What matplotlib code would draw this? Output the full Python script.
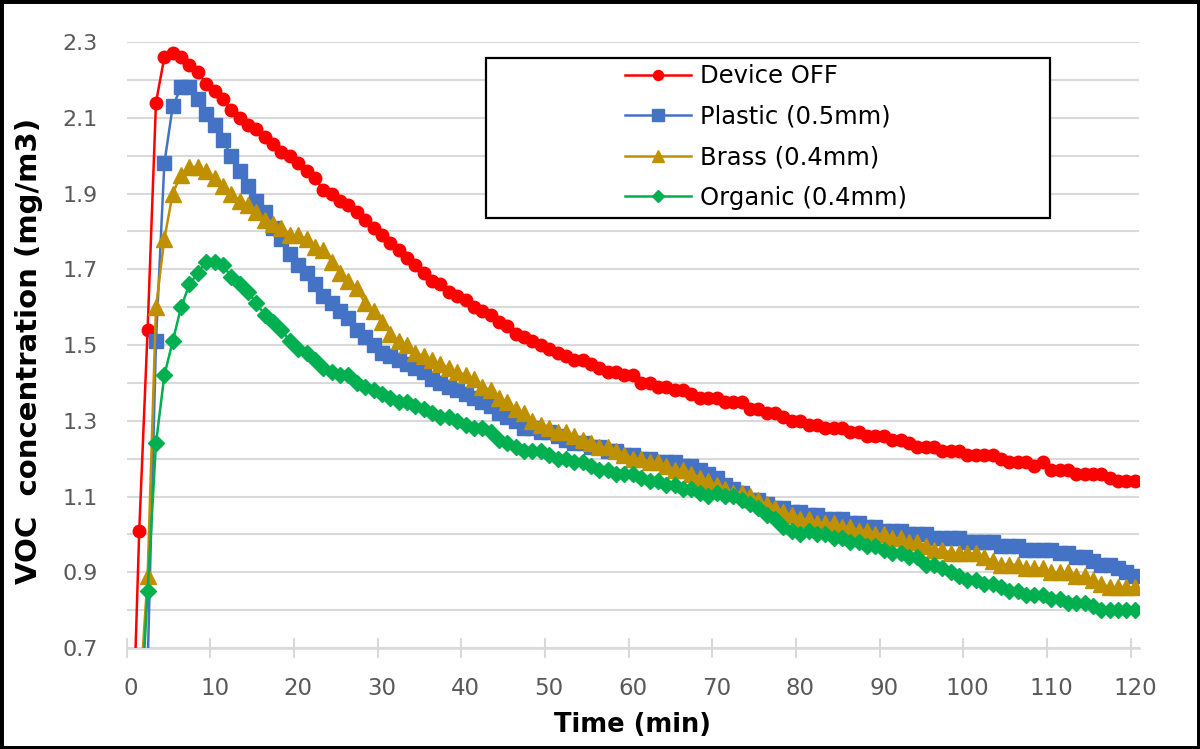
import numpy as np
import matplotlib.pyplot as plt
from matplotlib.patches import Rectangle
from matplotlib.lines import Line2D

# time categories (min)
time_min = list(range(0, 121))

device_off = [0.30, 1.01, 1.54, 2.14, 2.26, 2.27, 2.26, 2.24, 2.22, 2.19,
              2.17, 2.15, 2.12, 2.10, 2.08, 2.07, 2.05, 2.03, 2.01, 2.00,
              1.98, 1.96, 1.94, 1.91, 1.90, 1.88, 1.87, 1.85, 1.83, 1.81,
              1.79, 1.77, 1.75, 1.73, 1.71, 1.69, 1.67, 1.66, 1.64, 1.63,
              1.62, 1.60, 1.59, 1.58, 1.56, 1.55, 1.53, 1.52, 1.51, 1.50,
              1.49, 1.48, 1.47, 1.46, 1.46, 1.45, 1.44, 1.43, 1.43, 1.42,
              1.42, 1.40, 1.40, 1.39, 1.39, 1.38, 1.38, 1.37, 1.36, 1.36,
              1.36, 1.35, 1.35, 1.35, 1.33, 1.33, 1.32, 1.32, 1.31, 1.30,
              1.30, 1.29, 1.29, 1.28, 1.28, 1.28, 1.27, 1.27, 1.26, 1.26,
              1.26, 1.25, 1.25, 1.24, 1.23, 1.23, 1.23, 1.22, 1.22, 1.22,
              1.21, 1.21, 1.21, 1.21, 1.20, 1.19, 1.19, 1.19, 1.18, 1.19,
              1.17, 1.17, 1.17, 1.16, 1.16, 1.16, 1.16, 1.15, 1.14, 1.14,
              1.14]

plastic = [0.55, 0.58, 0.65, 1.51, 1.98, 2.13, 2.18, 2.18, 2.15, 2.11,
           2.08, 2.04, 2.00, 1.96, 1.92, 1.88, 1.85, 1.81, 1.78, 1.74,
           1.71, 1.69, 1.66, 1.63, 1.61, 1.59, 1.57, 1.54, 1.52, 1.50,
           1.48, 1.47, 1.46, 1.45, 1.44, 1.43, 1.41, 1.40, 1.39, 1.38,
           1.37, 1.36, 1.35, 1.34, 1.32, 1.31, 1.30, 1.28, 1.28, 1.27,
           1.27, 1.26, 1.25, 1.24, 1.24, 1.23, 1.23, 1.22, 1.22, 1.21,
           1.21, 1.20, 1.20, 1.19, 1.19, 1.19, 1.18, 1.18, 1.17, 1.16,
           1.15, 1.13, 1.12, 1.11, 1.09, 1.09, 1.08, 1.07, 1.07, 1.06,
           1.06, 1.05, 1.05, 1.04, 1.04, 1.04, 1.03, 1.03, 1.02, 1.02,
           1.01, 1.01, 1.01, 1.00, 1.00, 1.00, 0.99, 0.99, 0.99, 0.99,
           0.98, 0.98, 0.98, 0.98, 0.97, 0.97, 0.97, 0.96, 0.96, 0.96,
           0.96, 0.95, 0.95, 0.94, 0.94, 0.93, 0.92, 0.92, 0.91, 0.90,
           0.89]

brass = [0.50, 0.55, 0.89, 1.60, 1.78, 1.90, 1.95, 1.97, 1.97, 1.96,
         1.94, 1.92, 1.90, 1.88, 1.87, 1.85, 1.83, 1.82, 1.81, 1.79,
         1.79, 1.78, 1.76, 1.75, 1.72, 1.69, 1.67, 1.65, 1.61, 1.59,
         1.56, 1.53, 1.51, 1.50, 1.48, 1.47, 1.46, 1.45, 1.44, 1.43,
         1.42, 1.41, 1.39, 1.38, 1.36, 1.35, 1.33, 1.32, 1.30, 1.29,
         1.28, 1.27, 1.27, 1.26, 1.25, 1.24, 1.23, 1.23, 1.22, 1.21,
         1.20, 1.20, 1.19, 1.19, 1.18, 1.17, 1.17, 1.16, 1.15, 1.14,
         1.13, 1.12, 1.11, 1.11, 1.10, 1.09, 1.08, 1.07, 1.06, 1.05,
         1.04, 1.04, 1.03, 1.03, 1.03, 1.02, 1.02, 1.01, 1.01, 1.00,
         1.00, 0.99, 0.99, 0.98, 0.98, 0.97, 0.96, 0.96, 0.95, 0.95,
         0.95, 0.95, 0.94, 0.93, 0.92, 0.92, 0.92, 0.91, 0.91, 0.91,
         0.90, 0.90, 0.90, 0.89, 0.89, 0.88, 0.87, 0.86, 0.86, 0.86,
         0.86]

organic = [0.40, 0.45, 0.85, 1.24, 1.42, 1.51, 1.60, 1.66, 1.69, 1.72,
           1.72, 1.71, 1.68, 1.66, 1.64, 1.61, 1.58, 1.56, 1.54, 1.51,
           1.49, 1.48, 1.46, 1.44, 1.43, 1.42, 1.42, 1.40, 1.39, 1.38,
           1.37, 1.36, 1.35, 1.35, 1.34, 1.33, 1.32, 1.31, 1.31, 1.30,
           1.29, 1.28, 1.28, 1.27, 1.25, 1.24, 1.23, 1.22, 1.22, 1.22,
           1.21, 1.20, 1.20, 1.19, 1.19, 1.18, 1.17, 1.17, 1.16, 1.16,
           1.16, 1.15, 1.14, 1.14, 1.13, 1.13, 1.12, 1.12, 1.11, 1.10,
           1.11, 1.10, 1.10, 1.09, 1.08, 1.07, 1.05, 1.04, 1.02, 1.01,
           1.00, 1.01, 1.00, 1.00, 0.99, 0.99, 0.98, 0.98, 0.97, 0.97,
           0.96, 0.95, 0.95, 0.94, 0.94, 0.92, 0.92, 0.91, 0.90, 0.89,
           0.88, 0.88, 0.87, 0.87, 0.86, 0.85, 0.85, 0.84, 0.84, 0.84,
           0.83, 0.83, 0.82, 0.82, 0.82, 0.81, 0.80, 0.80, 0.80, 0.80,
           0.80]

series_names = ["Device OFF", "Plastic (0.5mm)", "Brass (0.4mm)", "Organic (0.4mm)"]
series_vals = [device_off, plastic, brass, organic]
colors = ["#FF0000", "#4472C4", "#BF9000", "#00B050"]
markers = ["o", "s", "^", "D"]
msizes = [9, 10, 11, 8]

plt.rcParams['font.family'] = 'DejaVu Sans'
grey = "#d9d9d9"
txt = "#595959"

fig = plt.figure(figsize=(12, 7.49), dpi=100)
ax = fig.add_axes([126.7/1200, 1 - 648/749, (1139 - 126.7)/1200, (648 - 42)/749])

# Excel category axis: points sit in the middle of each category slot
x = np.array(time_min) + 0.5
for vals, c, m, ms in zip(series_vals, colors, markers, msizes):
    ax.plot(x, vals, color=c, lw=1.8, marker=m, ms=ms, mec=c, mfc=c, zorder=3)

ax.set_xlim(0, 121)
ax.set_ylim(0.7, 2.3)

ax.set_yticks(np.arange(0.7, 2.31, 0.2))
ax.set_yticklabels([f"{v:.1f}" for v in np.arange(0.7, 2.31, 0.2)])
ax.set_yticks(np.arange(0.8, 2.21, 0.2), minor=True)
ax.grid(axis='y', which='both', color=grey, lw=1.5, zorder=0)
ax.tick_params(axis='y', which='both', length=0, pad=21, labelsize=16, labelcolor=txt)

ax.set_xticks(np.arange(0, 121, 10))
ax.set_xticklabels([""] * 13)
ax.set_xticks(np.arange(0, 121, 10) + 0.5, [str(t) for t in range(0, 121, 10)], minor=True)
ax.tick_params(axis='x', which='major', direction='inout', length=14, width=1.5, color=grey)
ax.tick_params(axis='x', which='minor', length=0, pad=21, labelsize=16.5, labelcolor=txt)

for s in ['left', 'right', 'top']:
    ax.spines[s].set_visible(False)
ax.spines['bottom'].set_color(grey)
ax.spines['bottom'].set_linewidth(1.8)

ax.set_xlabel("Time (min)", fontsize=18.5, fontweight='bold')
ax.xaxis.set_label_coords(0.5, -0.105)
ax.set_ylabel("VOC  concentration (mg/m3)", fontsize=21, fontweight='bold')
ax.yaxis.set_label_coords(-0.083, 0.49)

# legend box
box = Rectangle((486/1200, 1 - 218/749), 564/1200, 160/749, transform=fig.transFigure,
                fc='white', ec='black', lw=1.6, zorder=10)
fig.add_artist(box)
handles = [Line2D([], [], color=c, lw=1.8, marker=m, ms=ms*0.8, mec=c, mfc=c)
           for c, m, ms in zip(colors, markers, msizes)]
leg = fig.legend(handles, series_names, loc='center', bbox_to_anchor=(766/1200, 1 - 137/749),
                 frameon=False, fontsize=17.5, handlelength=2.7, handletextpad=0.35,
                 labelspacing=0.68)
leg.set_zorder(11)

# outer frame
fig.add_artist(Rectangle((0, 0), 1, 1, transform=fig.transFigure, fill=False,
                         ec='black', lw=5, zorder=20))

fig.savefig("out.png", dpi=100)
